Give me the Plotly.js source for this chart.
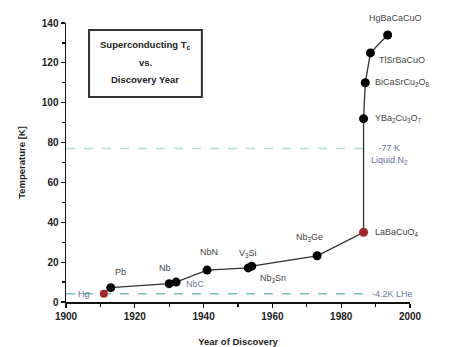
<!DOCTYPE html>
<html><head><meta charset="utf-8">
<script src="https://cdn.plot.ly/plotly-3.0.1.min.js"></script>
<style>html,body{margin:0;padding:0;background:#fff}#c{width:453px;height:347px}</style>
</head><body><div id="c"></div>
<script>
// Data
var names = ["Hg","Pb","Nb","NbC","NbN","V<sub>3</sub>Si","Nb<sub>3</sub>Sn","Nb<sub>3</sub>Ge","LaBaCuO<sub>4</sub>","YBa<sub>2</sub>Cu<sub>3</sub>O<sub>7</sub>","BiCaSrCu<sub>2</sub>O<sub>8</sub>","TlSrBaCuO","HgBaCaCuO"];
var years = [1911, 1913, 1930, 1932, 1941, 1953, 1954, 1973, 1986.5, 1986.5, 1987, 1988.5, 1993.5];
var tc    = [4.2, 7.2, 9.2, 10, 16, 17.1, 18, 23.2, 35, 92, 110, 125, 134];
var redIdx = [0, 8];
var refTemps = [77, 4.2];
var refLabels = ["-77 K<br>Liquid N<sub>2</sub>", "-4.2K LHe"];
var boxLines = ["Superconducting T<sub>c</sub>", "vs.", "Discovery Year"];
var xTicks = [1900, 1920, 1940, 1960, 1980, 2000];
var yTicks = [0, 20, 40, 60, 80, 100, 120, 140];

var colors = years.map(function(_, i){ return redIdx.indexOf(i) >= 0 ? '#a02828' : '#000'; });
var sizes = years.map(function(_, i){ return i === 0 ? 8 : 9; });

var traces = [
  {x: [1900, 1987], y: [refTemps[0], refTemps[0]], mode: 'lines', line: {color: '#b4dbe0', width: 1.5, dash: 'dash'}, hoverinfo: 'skip'},
  {x: [1900, 1987], y: [refTemps[1], refTemps[1]], mode: 'lines', line: {color: '#78c0bc', width: 1.5, dash: 'dash'}, hoverinfo: 'skip'},
  {x: years, y: tc, mode: 'lines+markers', line: {color: '#333', width: 1.3},
   marker: {color: colors, size: sizes, opacity: 1, line: {width: 0}}}
];

// label placement (offsets in px)
var lab = [
  {ax: -12, ay: 0, xa: 'right', c: '#6a7a9a'},
  {ax: 2, ay: -16, xa: 'left', c: '#444'},
  {ax: -4, ay: -16, xa: 'center', c: '#444'},
  {ax: 8, ay: 2, xa: 'left', c: '#6a7a9a'},
  {ax: 2, ay: -18, xa: 'center', c: '#444'},
  {ax: 0, ay: -14, xa: 'center', c: '#444'},
  {ax: 6, ay: 12, xa: 'left', c: '#444'},
  {ax: -8, ay: -18, xa: 'center', c: '#444'},
  {ax: 9, ay: 0, xa: 'left', c: '#444'},
  {ax: 9, ay: 0, xa: 'left', c: '#444'},
  {ax: 8, ay: 0, xa: 'left', c: '#444'},
  {ax: 7, ay: 7, xa: 'left', c: '#444'},
  {ax: 8, ay: -17, xa: 'center', c: '#444'}
];
var annotations = names.map(function(n, i){
  return {x: years[i], y: tc[i], text: n, showarrow: true, arrowcolor: 'rgba(0,0,0,0)', arrowwidth: 0.1,
    ax: lab[i].ax, ay: lab[i].ay, xanchor: lab[i].xa, yanchor: 'middle', standoff: 0,
    font: {family: 'Liberation Sans, Arial', size: 9, color: lab[i].c}};
});
annotations.push({x: 1988, y: refTemps[0] - 3, text: refLabels[0], showarrow: false, xanchor: 'left', yanchor: 'middle', align: 'center',
  font: {family: 'Liberation Sans, Arial', size: 9, color: '#6a6aa8'}});
annotations.push({x: 1988.5, y: refTemps[1], text: refLabels[1], showarrow: false, xanchor: 'left', yanchor: 'middle',
  font: {family: 'Liberation Sans, Arial', size: 9, color: '#6a7a9a'}});
var boxY = [0.921, 0.860, 0.796];
boxLines.forEach(function(t, i){
  annotations.push({xref: 'paper', yref: 'paper', x: 0.231, y: boxY[i], xanchor: 'center', yanchor: 'middle',
    text: '<b>' + t + '</b>', showarrow: false,
    font: {family: 'Liberation Sans, Arial', size: 9.5, color: '#222'}});
});

var axFont = {family: 'Liberation Sans, Arial', size: 10, color: '#222', weight: 'bold'};
var layout = {
  width: 453, height: 347,
  margin: {l: 66, r: 43, t: 23, b: 45},
  paper_bgcolor: '#fff', plot_bgcolor: '#fff',
  showlegend: false,
  shapes: [{type: 'rect', xref: 'paper', yref: 'paper', x0: 0.067, x1: 0.395, y0: 0.735, y1: 0.975,
    line: {color: '#333', width: 2}, fillcolor: 'rgba(0,0,0,0)'}],
  xaxis: {range: [1900, 2000], tickvals: xTicks, ticktext: xTicks.map(String), showgrid: false, zeroline: false,
    showline: true, linecolor: '#111', linewidth: 1.5, ticks: 'outside', ticklen: 4, tickcolor: '#111', tickwidth: 1.2,
    minor: {dtick: 10, tick0: 1910, ticks: 'outside', ticklen: 3, tickcolor: '#111'},
    tickfont: axFont, title: {text: '<b>Year of Discovery</b>', font: {family: 'Liberation Sans, Arial', size: 9.5, color: '#222'}, standoff: 18}},
  yaxis: {range: [0, 140], tickvals: yTicks, ticktext: yTicks.map(String), showgrid: false, zeroline: false,
    showline: true, linecolor: '#111', linewidth: 1.5, ticks: 'outside', ticklen: 4, tickcolor: '#111', tickwidth: 1.2,
    minor: {dtick: 10, ticks: 'outside', ticklen: 3, tickcolor: '#111'},
    tickfont: axFont, title: {text: '<b>Temperature [K]</b>', font: {family: 'Liberation Sans, Arial', size: 9.5, color: '#222'}, standoff: 14}},
  annotations: annotations
};
Plotly.newPlot('c', traces, layout, {displayModeBar: false, staticPlot: true});
</script></body></html>
